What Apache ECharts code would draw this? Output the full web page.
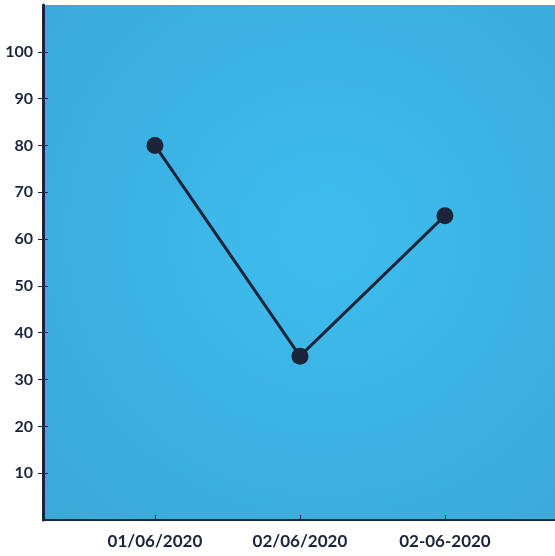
<!DOCTYPE html>
<html>
<head>
<meta charset="utf-8">
<script src="https://cdn.jsdelivr.net/npm/echarts@6/dist/echarts.min.js"></script>
<style>
  html, body { margin: 0; padding: 0; background: #ffffff; }
  #chart { width: 555px; height: 556px; }
</style>
</head>
<body>
<div id="chart"></div>
<script>
// Dates along the horizontal axis and the reading for each one
const categories = ['01/06/2020', '02/06/2020', '02-06-2020'];
const values = [80, 35, 65];
// Labelled ticks on the vertical axis
const yTicks = [10, 20, 30, 40, 50, 60, 70, 80, 90, 100];

const ink = '#1b2439';
const font = 'Lato';

const chart = echarts.init(document.getElementById('chart'), null, { renderer: 'canvas' });

const positions = categories.map((_, i) => i);

chart.setOption({
  animation: false,
  backgroundColor: '#ffffff',
  grid: {
    left: 43, right: 0, top: 5, bottom: 36,
    show: true,
    borderWidth: 0,
    backgroundColor: new echarts.graphic.RadialGradient(0.55, 0.45, 0.75, [
      { offset: 0, color: '#3dbdee' },
      { offset: 1, color: '#3aa9da' }
    ])
  },
  xAxis: {
    type: 'value',
    min: -0.772,
    max: 2.759,
    splitLine: { show: false },
    axisLine: { show: true, onZero: false, lineStyle: { color: ink, width: 2 } },
    axisTick: { show: true, inside: true, length: 5, customValues: positions, lineStyle: { color: ink, width: 1 } },
    axisLabel: {
      customValues: positions,
      formatter: v => categories[Math.round(v)],
      color: ink, fontFamily: font, fontSize: 17, fontWeight: 'bold', margin: 13
    }
  },
  yAxis: [{
    type: 'value',
    min: 0, max: 110, interval: 10,
    splitLine: { show: false },
    axisLine: { show: true, onZero: false, lineStyle: { color: ink, width: 3 } },
    axisTick: { show: true, length: 5, customValues: yTicks, lineStyle: { color: ink, width: 1 } },
    axisLabel: {
      customValues: yTicks,
      color: ink, fontFamily: font, fontSize: 16, fontWeight: 'bold', margin: 10
    }
  }, {
    type: 'value',
    position: 'left',
    min: 0, max: 110, interval: 10,
    splitLine: { show: false },
    axisLine: { show: false, onZero: false },
    axisTick: { show: true, inside: true, length: 5, customValues: yTicks, lineStyle: { color: ink, width: 1 } },
    axisLabel: { show: false }
  }],
  series: [{
    type: 'line',
    data: values.map((v, i) => [positions[i], v]),
    symbol: 'circle',
    symbolSize: 17,
    lineStyle: { color: ink, width: 3 },
    itemStyle: { color: ink }
  }]
});
</script>
</body>
</html>
